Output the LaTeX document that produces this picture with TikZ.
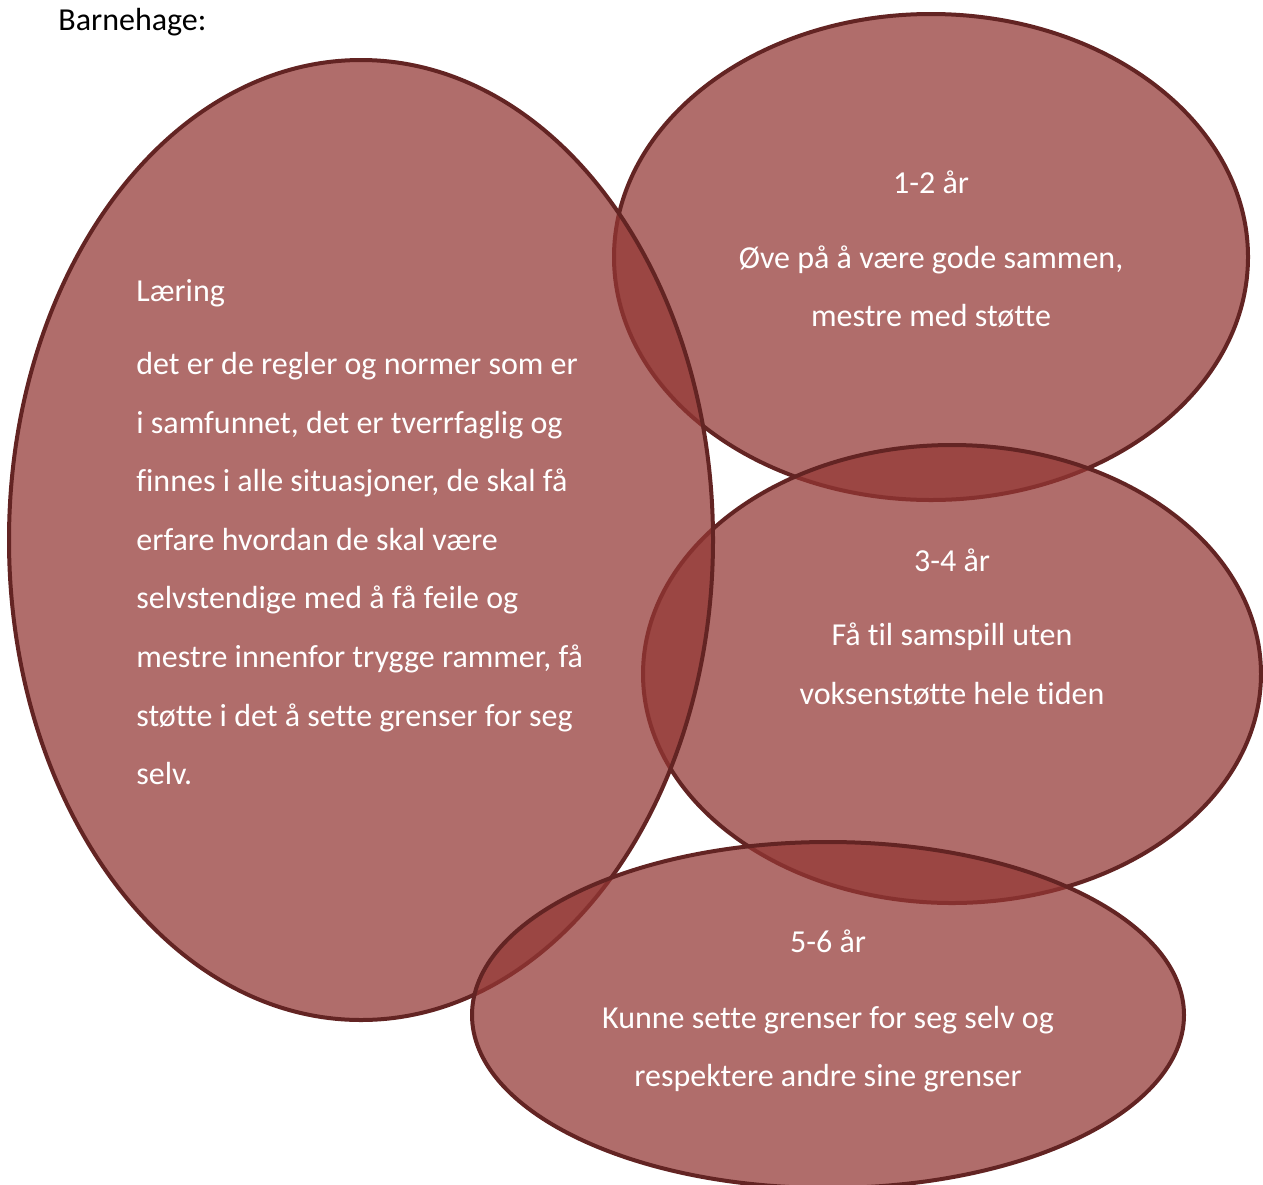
\documentclass[tikz,border=0pt]{standalone}
\usepackage{fontspec}
\setmainfont[Ligatures=NoCommon]{Carlito}
\usetikzlibrary{shapes.geometric}
\definecolor{bubblefill}{RGB}{147,55,52}
\definecolor{bubbleline}{RGB}{99,36,35}
\tikzset{
    bubble/.style={ellipse, draw=bubbleline, line width=2pt, fill=bubblefill, fill opacity=0.73, draw opacity=1, inner sep=0pt},
    txt/.style={text=white, inner sep=0pt, font=\fontsize{16.0}{19}\selectfont},
}
\begin{document}
\begin{tikzpicture}[x=0.5pt, y=-0.5pt]
    \useasboundingbox (0,0) rectangle (1263,1184);
    \clip (0,0) rectangle (1263,1184);

    % Bubbles (back to front)
    \node[bubble, minimum width=317pt, minimum height=243pt] (age12) at (931,257) {};
    \node[bubble, minimum width=309pt, minimum height=229pt] (age34) at (952,674) {};
    \node[bubble, minimum width=352pt, minimum height=480pt] (laering) at (361,540) {};
    \node[bubble, minimum width=356pt, minimum height=173pt] (age56) at (828,1015) {};

    % Title
    \node[txt, text=black, anchor=base west] (title) at (58,30) {Barnehage:};

    % Læring
    \node[txt, anchor=base west] (lhead) at (136,301) {Læring};
    \node[txt, anchor=base west] (l1) at (136,374) {det er de regler og normer som er};
    \node[txt, anchor=base west] (l2) at (136,433) {i samfunnet, det er tverrfaglig og};
    \node[txt, anchor=base west] (l3) at (136,491) {finnes i alle situasjoner, de skal få};
    \node[txt, anchor=base west] (l4) at (136,550) {erfare hvordan de skal være};
    \node[txt, anchor=base west] (l5) at (136,608) {selvstendige med å få feile og};
    \node[txt, anchor=base west] (l6) at (136,667) {mestre innenfor trygge rammer, få};
    \node[txt, anchor=base west] (l7) at (136,726) {støtte i det å sette grenser for seg};
    \node[txt, anchor=base west] (l8) at (136,784) {selv.};

    % 1-2 år
    \node[txt, anchor=base] (h12) at (931,193) {1-2 år};
    \node[txt, anchor=base] (a12) at (931,268) {Øve på å være gode sammen,};
    \node[txt, anchor=base] (b12) at (931,326) {mestre med støtte};

    % 3-4 år
    \node[txt, anchor=base] (h34) at (952,571) {3-4 år};
    \node[txt, anchor=base] (a34) at (952,645) {Få til samspill uten};
    \node[txt, anchor=base] (b34) at (952,704) {voksenstøtte hele tiden};

    % 5-6 år
    \node[txt, anchor=base] (h56) at (828,952) {5-6 år};
    \node[txt, anchor=base] (a56) at (828,1028) {Kunne sette grenser for seg selv og};
    \node[txt, anchor=base] (b56) at (828,1086) {respektere andre sine grenser};
\end{tikzpicture}
\end{document}
